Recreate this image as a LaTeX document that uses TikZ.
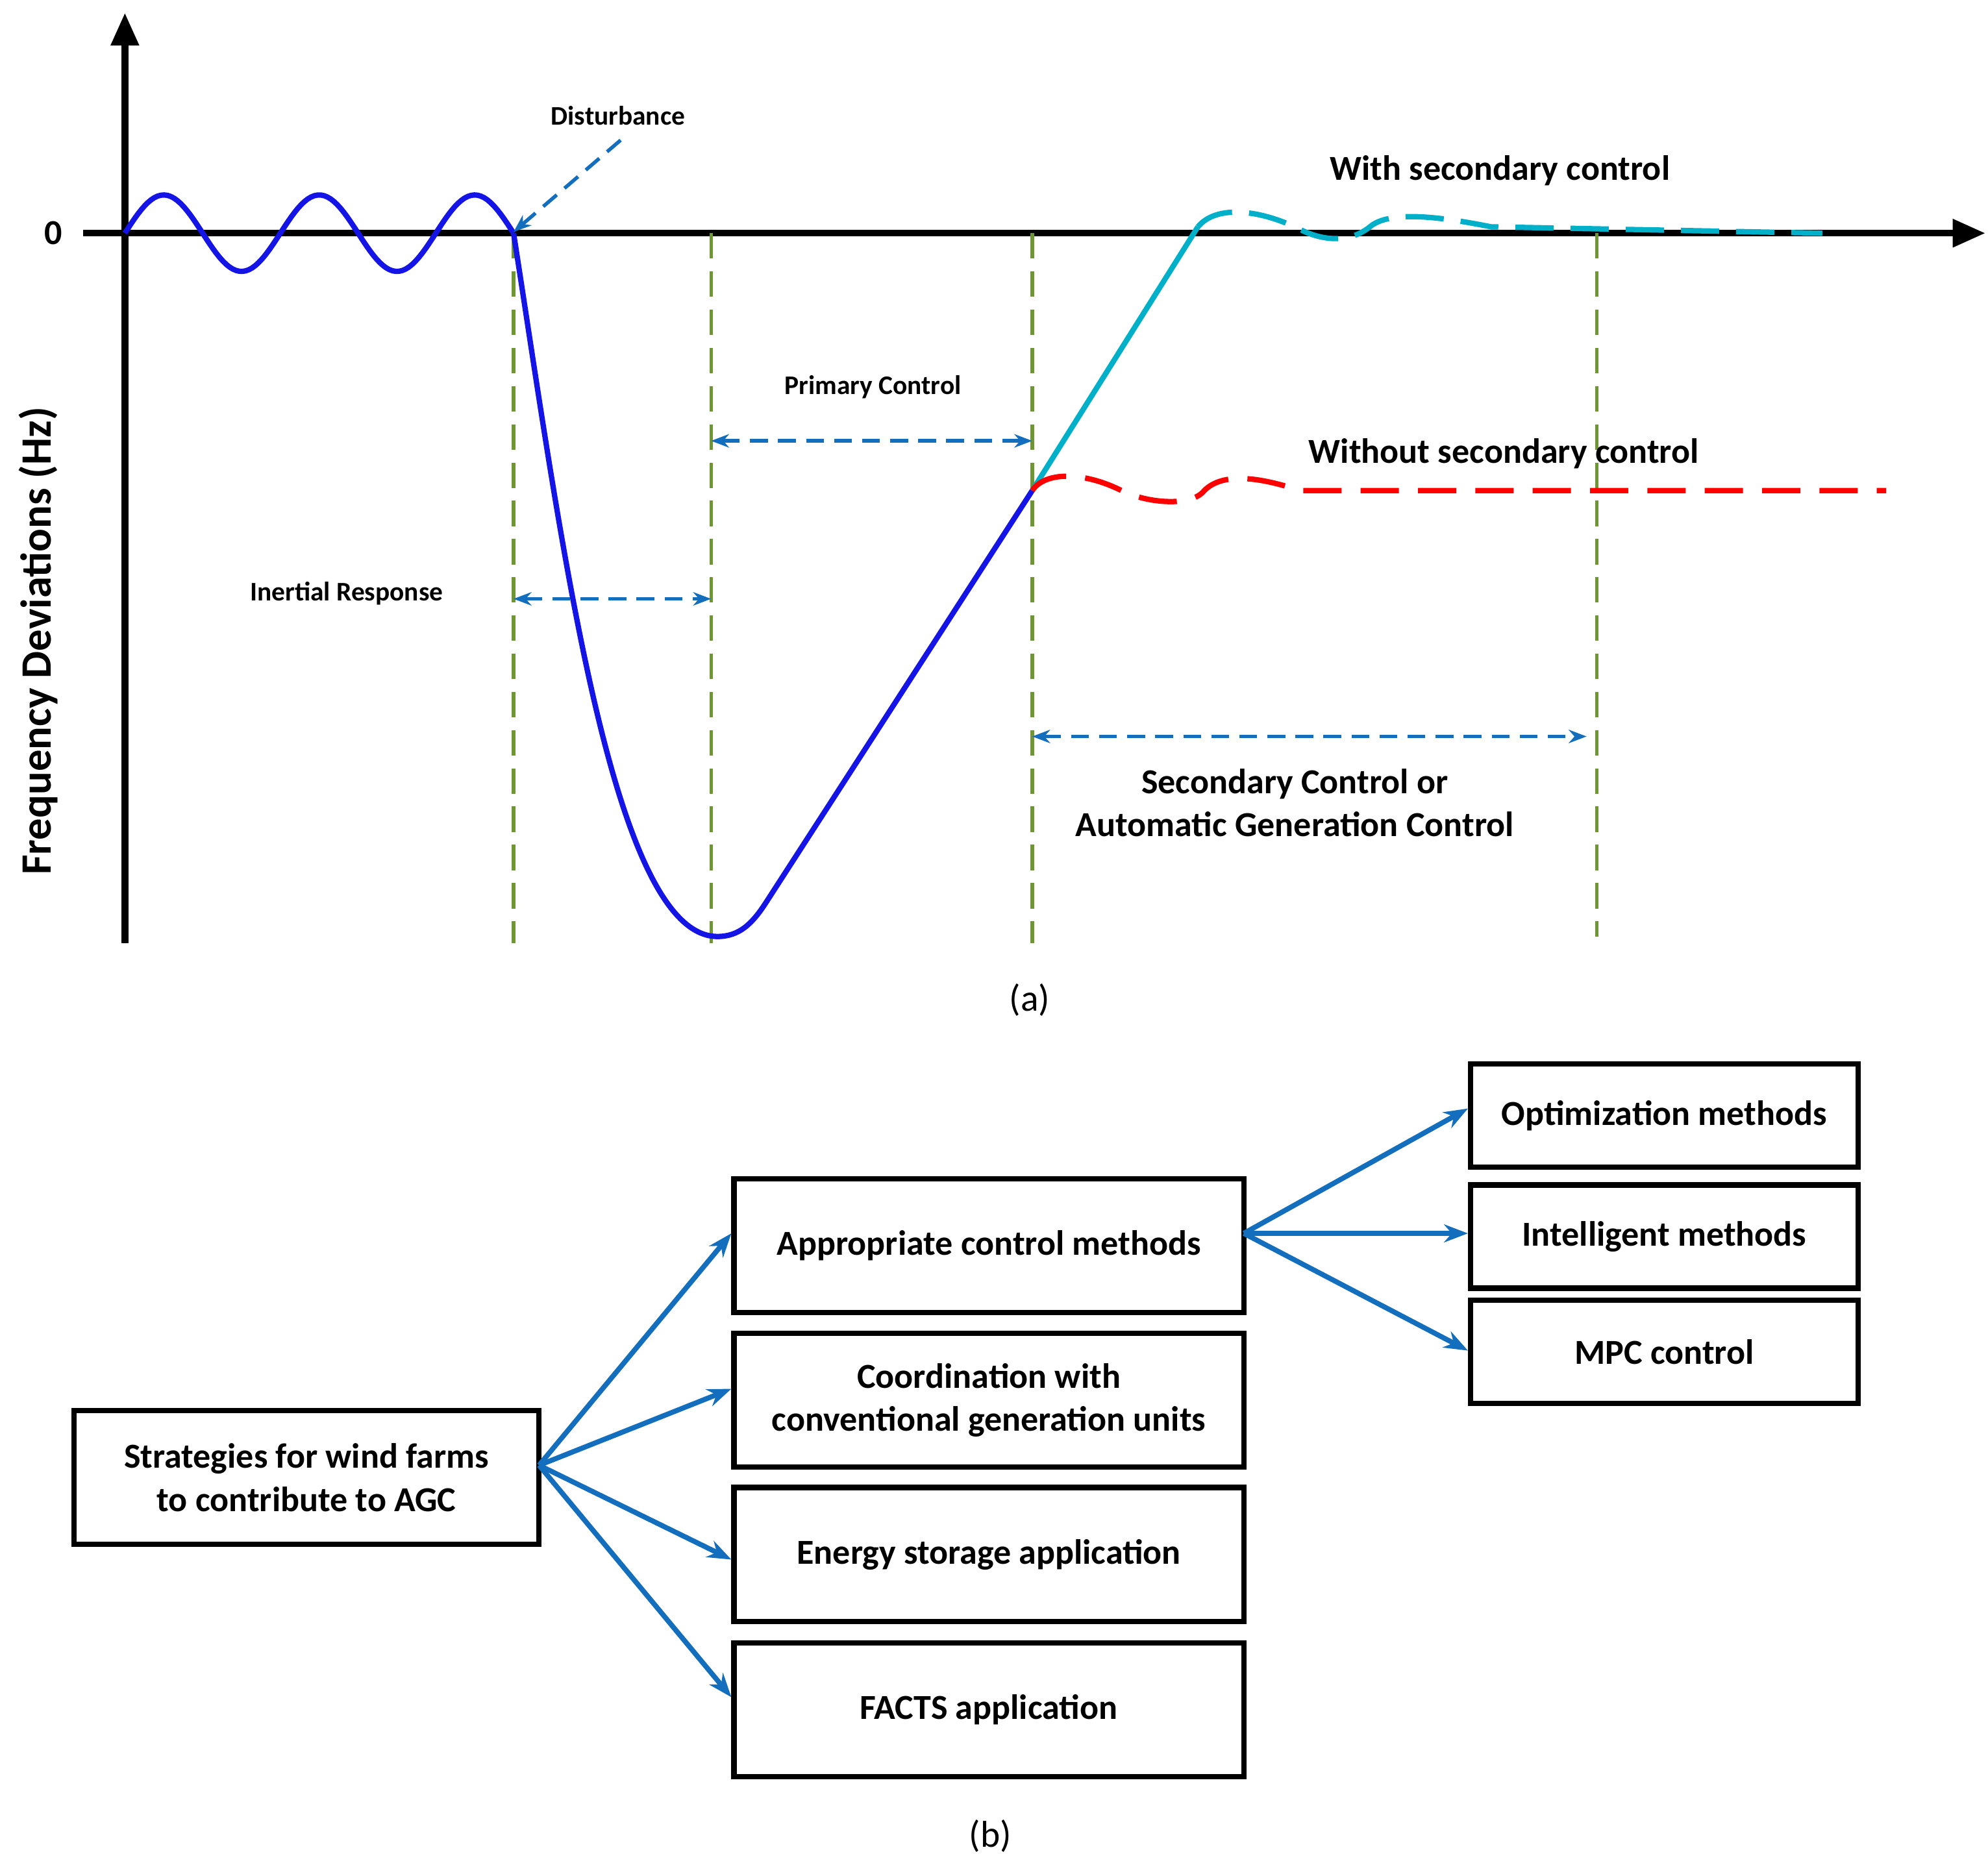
\documentclass[tikz,border=0pt]{standalone}
\usepackage{fontspec}
\setmainfont{Carlito}
\usetikzlibrary{arrows.meta}
\definecolor{arr}{RGB}{20,110,190}
\definecolor{cblue}{RGB}{20,20,230}
\definecolor{ccyan}{RGB}{0,175,200}
\definecolor{cgreen}{RGB}{110,150,50}
\begin{document}
\begin{tikzpicture}[x=0.3mm,y=-0.3mm,
 lbl/.style={font=\fontsize{18}{21}\selectfont\bfseries},
 big/.style={font=\fontsize{23.5}{29}\selectfont\bfseries},
 box/.style={draw,line width=3.6pt,minimum width=#1,align=center,font=\fontsize{23.5}{29}\selectfont\bfseries,inner sep=0pt},
 ar/.style={arr,line width=3.4pt,-{Stealth[length=16pt,width=12pt]}},
 da/.style={arr,line width=2.4pt,dash pattern=on 4.2mm off 2.4mm,{Stealth[length=12pt,width=9pt]}-{Stealth[length=12pt,width=9pt]}},
 gd/.style={cgreen,line width=2.4pt,dash pattern=on 6mm off 3mm}]
\useasboundingbox (0,0) rectangle (1560,1462);
% axes
\draw[line width=4.6pt,-{Triangle[length=22pt,width=18pt]}] (98,740) -- (98,10);
\draw[line width=4.6pt,-{Triangle[length=22pt,width=18pt]}] (65,183) -- (1558,183);
\node[big] (zero) at (42,183) {0};
\node[font=\fontsize{29}{34}\selectfont\bfseries,rotate=90] (ylab) at (30,503) {Frequency Deviations (Hz)};
% green verticals
\foreach \x/\y in {403/740,558/740,810/740,1253/735}{\draw[gd] (\x,183) -- (\x,\y);}
% curves
\draw[cblue,line width=3.6pt,domain=0:305,samples=120] plot ({98+\x},{183-30*sin(\x/122*360)});
\draw[cblue,line width=3.6pt] (403,183) .. controls (440,420) and (480,735) .. (563,735) .. controls (580,735) and (590,725) .. (600,710) -- (810,385);
\draw[ccyan,line width=3.6pt] (810,385) -- (940,178);
\draw[ccyan,line width=3.6pt,dash pattern=on 9mm off 4mm] (940,178) .. controls (955,160) and (990,165) .. (1020,180) .. controls (1040,190) and (1060,190) .. (1075,178) .. controls (1090,165) and (1130,170) .. (1170,178) -- (1430,183);
\draw[red,line width=3.6pt,dash pattern=on 9mm off 4.5mm] (810,385) .. controls (820,370) and (850,370) .. (880,385) .. controls (900,395) and (935,398) .. (945,385) .. controls (960,370) and (990,375) .. (1020,385) -- (1480,385);
% dashed arrows
\draw[da] (403,470) -- (558,470);
\draw[da] (558,346) -- (810,346);
\draw[da] (810,578) -- (1245,578);
\coordinate (dst) at (403,182);
\coordinate (dsf) at (487,110);
\draw[arr,line width=2.4pt,dash pattern=on 4.2mm off 2.4mm,-{Stealth[length=12pt,width=9pt]}] (dsf) -- (dst);
% labels
\node[lbl] (ld) at (485,91) {Disturbance};
\node[lbl] (lp) at (685,304) {Primary Control};
\node[lbl] (li) at (272,466) {Inertial Response};
\node[big] (lw) at (1177,134) {With secondary control};
\node[big] (lwo) at (1180,356) {Without secondary control};
\node[big,align=center] (ls) at (1016,630) {Secondary Control or\\Automatic Generation Control};
\node[font=\fontsize{25}{29}\selectfont] (a) at (808,785) {(a)};
% boxes
\node[box=365*0.3mm,minimum height=105*0.3mm] (s) at (240.5,1159.5) {Strategies for wind farms\\to contribute to AGC};
\node[box=400*0.3mm,minimum height=105*0.3mm] (ap) at (776,977.5) {Appropriate control methods};
\node[box=400*0.3mm,minimum height=105*0.3mm] (co) at (776,1099) {Coordination with\\conventional generation units};
\node[box=400*0.3mm,minimum height=105*0.3mm] (en) at (776,1220) {Energy storage application};
\node[box=400*0.3mm,minimum height=105*0.3mm] (fa) at (776,1342) {FACTS application};
\node[box=304*0.3mm,minimum height=81*0.3mm] (op) at (1306,875.5) {Optimization methods};
\node[box=304*0.3mm,minimum height=81*0.3mm] (in) at (1306,970.5) {Intelligent methods};
\node[box=304*0.3mm,minimum height=81*0.3mm] (mp) at (1306,1061) {MPC control};
\coordinate (so) at (423,1150);
\coordinate (ao) at (976,968);
\draw[ar] (so) -- (ap.west |- 0,968);
\draw[ar] (so) -- (co.west |- 0,1090);
\draw[ar] (so) -- (en.west |- 0,1224);
\draw[ar] (so) -- (fa.west |- 0,1332);
\draw[ar] (ao) -- (op.west |- 0,870);
\draw[ar] (ao) -- (in.west |- 0,968);
\draw[ar] (ao) -- (mp.west |- 0,1060);
\node[font=\fontsize{25}{29}\selectfont] (b) at (777,1441) {(b)};
\end{tikzpicture}
\end{document}
